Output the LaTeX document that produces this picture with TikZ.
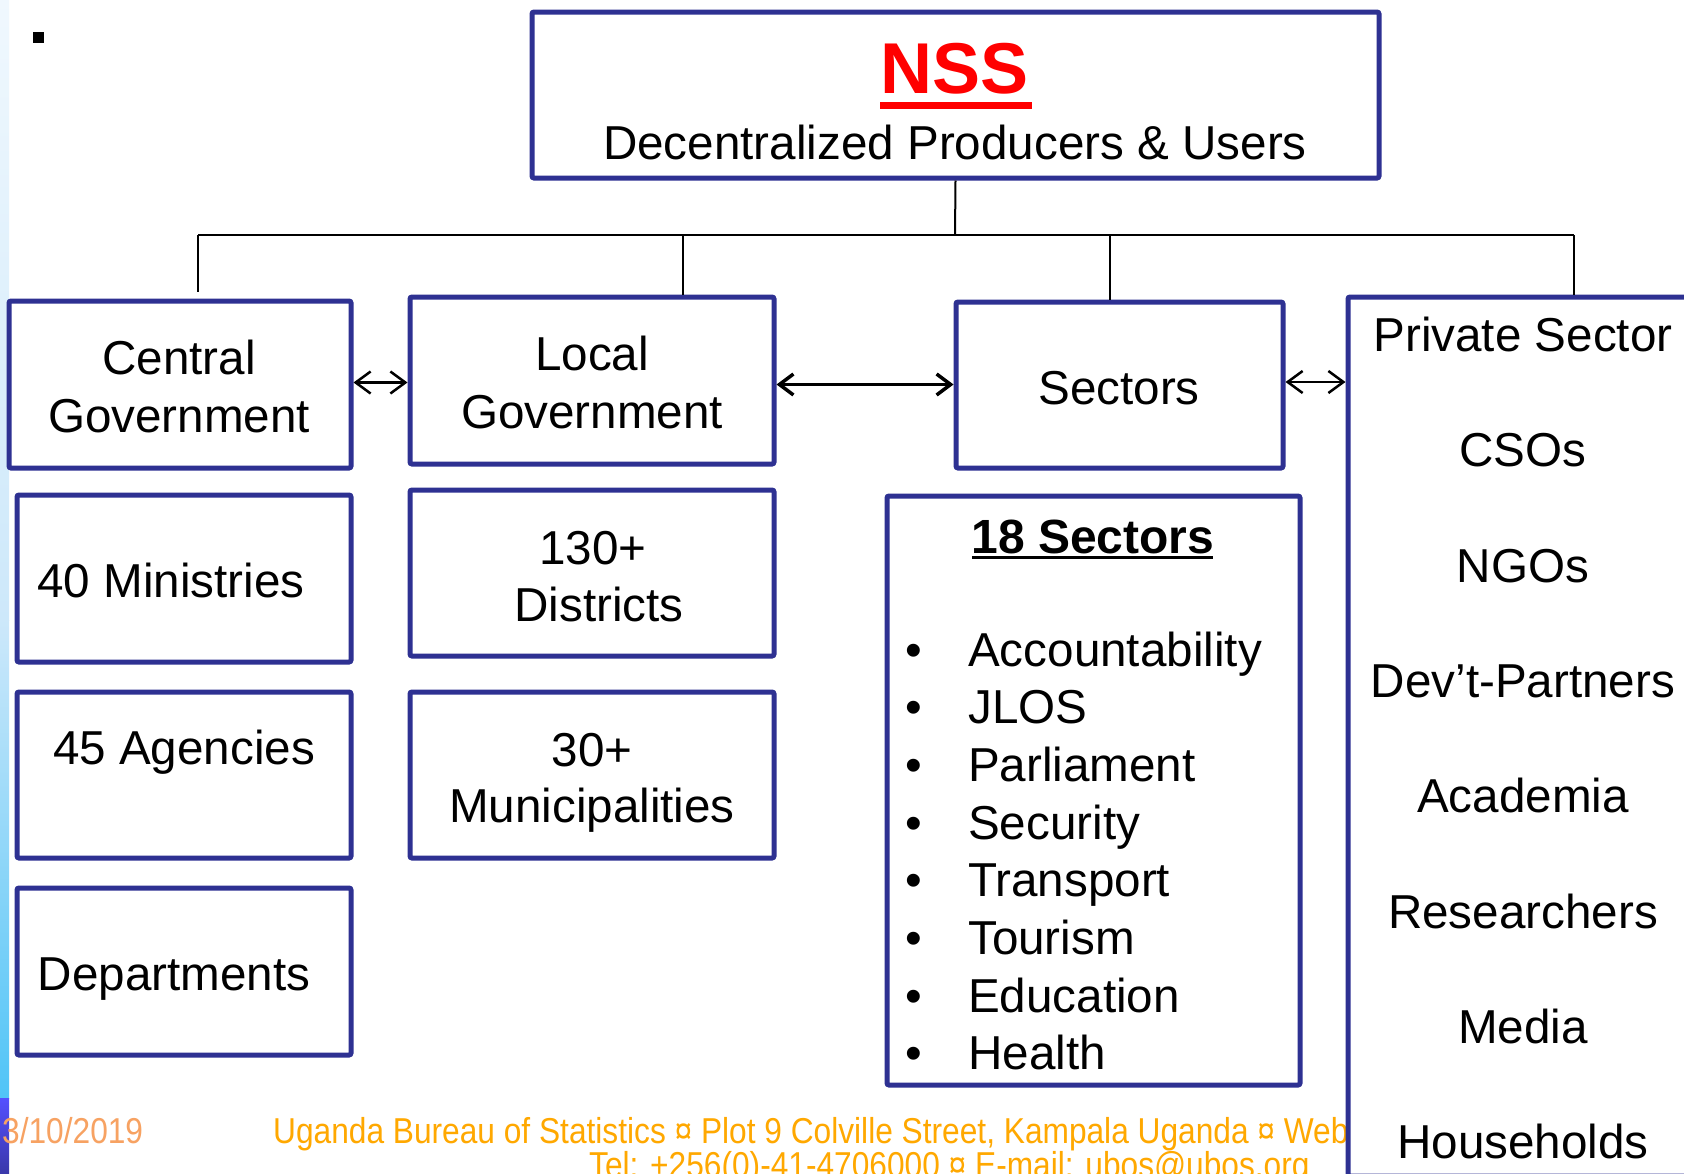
\documentclass[tikz,border=0pt]{standalone}
\usepackage{fontspec}
\setmainfont{Liberation Sans}
\usetikzlibrary{arrows.meta}
\definecolor{navy}{RGB}{46,49,146}
\definecolor{nssred}{RGB}{255,0,0}
\definecolor{footorange}{RGB}{255,168,0}
\definecolor{datesalmon}{RGB}{247,162,98}
\definecolor{stripA}{RGB}{240,248,254}
\definecolor{stripB}{RGB}{205,232,250}
\definecolor{stripC}{RGB}{80,196,247}
\definecolor{stripD}{RGB}{84,80,255}
\definecolor{stripE}{RGB}{58,56,170}
\begin{document}
\begin{tikzpicture}[x=1pt,y=-1pt,
  box/.style={draw=navy,line width=5pt,fill=white,rounded corners=2pt,inner sep=0pt},
  txt/.style={anchor=base,inner sep=0pt,font=\fontsize{47.6}{56}\selectfont},
  btxt/.style={anchor=base,inner sep=0pt,font=\fontsize{48}{56}\selectfont\bfseries},
  conn/.style={draw=black,line width=2pt},
  arr/.style={line width=2.5pt,{Straight Barb[length=15pt,width=22pt]}-{Straight Barb[length=15pt,width=22pt]}},
  arrb/.style={line width=3.5pt,{Straight Barb[length=14pt,width=21pt]}-{Straight Barb[length=14pt,width=21pt]}},
  foot/.style={anchor=base west,inner sep=0pt,font=\fontsize{36}{40}\selectfont}
]
\useasboundingbox (0,0) rectangle (1684,1173);
\fill[white] (0,0) rectangle (1684,1173);
\clip (0,0) rectangle (1684,1173);

% left strip
\shade[top color=stripA,bottom color=stripB] (0,0) rectangle (9,620);
\shade[top color=stripB,bottom color=stripC] (0,620) rectangle (9,1098);
\shade[top color=stripD,bottom color=stripE] (0,1098) rectangle (9,1173);

% small bullet square
\fill[black] (33,32) rectangle (44,43);

% footer
\node[foot,text=datesalmon] (date) at (2,1143) {\scalebox{0.88}[1]{3/10/2019}};
\node[foot,text=footorange] (foot1) at (273,1143) {\scalebox{0.88}[1]{Uganda Bureau of Statistics ¤ Plot 9 Colville Street, Kampala Uganda ¤ Web}};
\node[foot,text=footorange] (foot2) at (589,1177) {\scalebox{0.88}[1]{Tel: +256(0)-41-4706000 ¤ E-mail: ubos@ubos.org}};

% boxes
\node[box,minimum width=847pt,minimum height=166pt] (nss) at (955.5,95) {};
\node[box,minimum width=342pt,minimum height=167pt] (cg) at (180,384.5) {};
\node[box,minimum width=364pt,minimum height=167pt] (lg) at (592,380.5) {};
\node[box,minimum width=327pt,minimum height=166pt] (sec) at (1119.5,385) {};
\node[box,minimum width=372pt,minimum height=879pt] (ps) at (1534,736.5) {};
\node[box,minimum width=334pt,minimum height=167pt] (min) at (184,578.5) {};
\node[box,minimum width=334pt,minimum height=166pt] (ag) at (184,775) {};
\node[box,minimum width=334pt,minimum height=167pt] (dep) at (184,971.5) {};
\node[box,minimum width=364pt,minimum height=166pt] (dis) at (592,573) {};
\node[box,minimum width=364pt,minimum height=166pt] (mun) at (592,775) {};
\node[box,minimum width=413pt,minimum height=589pt] (s18) at (1093.5,790.5) {};

% tree connectors
\coordinate (bus) at (955,235);
\coordinate (dcg) at (198,235);
\coordinate (dlg) at (683,235);
\coordinate (dsec) at (1110,235);
\coordinate (dps) at (1574,235);
\coordinate (dcgend) at (198,292);
\draw[conn] (nss.south) -- (bus);
\draw[conn] (dcg) -- (dps);
\draw[conn] (dcg) -- (dcgend);
\draw[conn] (dlg) -- (dlg |- lg.north);
\draw[conn] (dsec) -- (dsec |- sec.north);
\draw[conn] (dps) -- (dps |- ps.north);

% arrows between boxes
\draw[arr] ([yshift=2pt]cg.east) -- ([yshift=2pt]cg.east -| lg.west);
\draw[arrb] ([yshift=-4pt]lg.east) -- ([yshift=-4pt]lg.east -| sec.west);
\draw[arr] ([yshift=3pt]sec.east) -- ([yshift=3pt]sec.east -| ps.west);

% NSS texts
\node[anchor=base,inner sep=0pt,font=\fontsize{72}{80}\selectfont\bfseries,text=nssred] (nsst) at (955,93) {NSS};
\coordinate (nssul1) at (880,105.5);
\coordinate (nssul2) at (1032,105.5);
\draw[nssred,line width=7pt] (nssul1) -- (nssul2);
\node[txt] (nsssub) at (955,159) {Decentralized Producers \& Users};

% box texts
\node[txt] (cg1) at (179,374) {Central};
\node[txt] (cg2) at (179,432) {Government};
\node[txt] (lg1) at (592,370) {Local};
\node[txt] (lg2) at (592,428) {Government};
\node[txt] (sec1) at (1119,404) {Sectors};
\node[txt] (mint) at (171,597) {40 Ministries};
\node[txt] (agt) at (184,764) {45 Agencies};
\node[txt] (dept) at (174,990) {Departments};
\node[txt] (dis1) at (593,564) {130+};
\node[txt] (dis2) at (599,621) {Districts};
\node[txt] (mun1) at (592,766) {30+};
\node[txt] (mun2) at (592,822) {Municipalities};

% 18 sectors
\node[btxt] (s18h) at (1093,553) {18 Sectors};
\coordinate (s18ul1) at (972,557);
\coordinate (s18ul2) at (1213,557);
\draw[black,line width=3pt] (s18ul1) -- (s18ul2);
\foreach \i/\t/\y in {1/Accountability/666,2/JLOS/723,3/Parliament/781,4/Security/839,5/Transport/896,6/Tourism/954,7/Education/1012,8/Health/1069}{
  \node[txt] (b\i) at (914,\y) {•};
  \node[txt,anchor=base west] (it\i) at (968,\y) {\t};
}

% private sector list
\foreach \i/\t/\y in {1/Private Sector/351,2/CSOs/466,3/NGOs/582,4/Dev’t-Partners/697,5/Academia/812,6/Researchers/928,7/Media/1043,8/Households/1158}{
  \node[txt] (p\i) at (1523,\y) {\t};
}
\end{tikzpicture}
\end{document}
